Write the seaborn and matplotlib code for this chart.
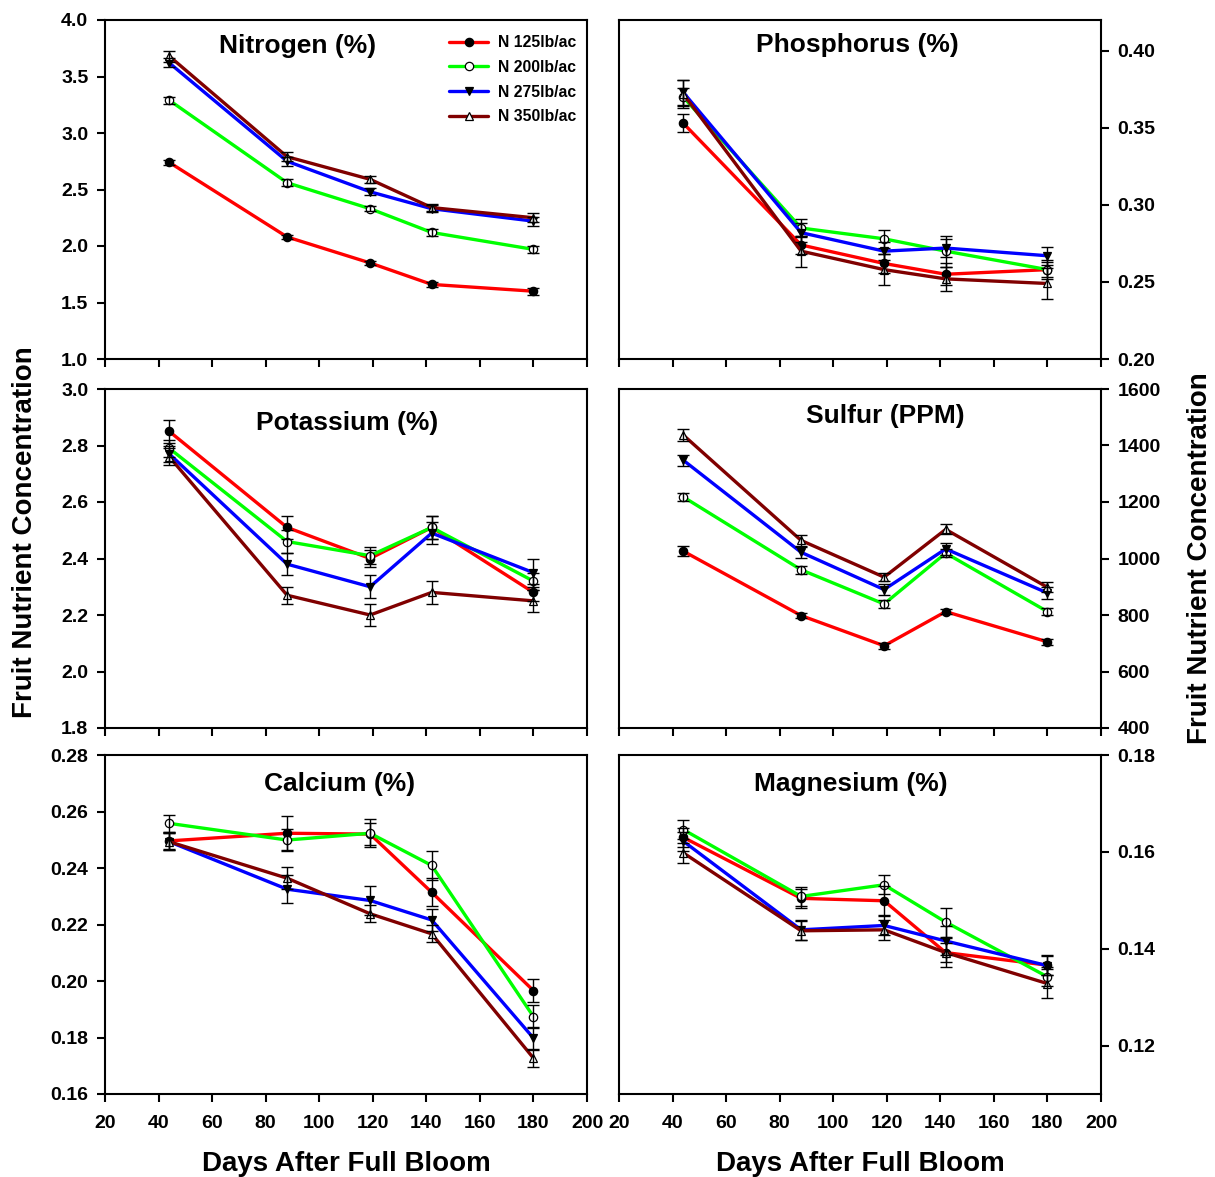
import matplotlib
matplotlib.use("Agg")
import matplotlib.pyplot as plt
from matplotlib.lines import Line2D
from matplotlib.ticker import FormatStrFormatter
import seaborn as sns

# Sampling dates (days after full bloom) and nitrogen rates
days = [44, 88, 119, 142, 180]
rates = ["N 125lb/ac", "N 200lb/ac", "N 275lb/ac", "N 350lb/ac"]

# Mean fruit nutrient concentration, one row per nitrogen rate
nitrogen = [
    [2.74, 2.08, 1.85, 1.66, 1.60],
    [3.29, 2.56, 2.33, 2.12, 1.97],
    [3.62, 2.75, 2.48, 2.33, 2.22],
    [3.68, 2.79, 2.59, 2.34, 2.25],
]
nitrogen_se = [
    [0.02, 0.02, 0.02, 0.02, 0.03],
    [0.03, 0.03, 0.02, 0.03, 0.03],
    [0.04, 0.04, 0.03, 0.03, 0.04],
    [0.05, 0.04, 0.03, 0.03, 0.04],
]

phosphorus = [
    [0.353, 0.274, 0.262, 0.255, 0.258],
    [0.370, 0.285, 0.278, 0.270, 0.258],
    [0.373, 0.282, 0.270, 0.272, 0.267],
    [0.372, 0.270, 0.258, 0.252, 0.249],
]
phosphorus_se = [
    [0.006, 0.006, 0.006, 0.007, 0.005],
    [0.006, 0.006, 0.006, 0.010, 0.006],
    [0.008, 0.006, 0.006, 0.006, 0.006],
    [0.009, 0.010, 0.010, 0.008, 0.010],
]

potassium = [
    [2.85, 2.51, 2.40, 2.51, 2.28],
    [2.79, 2.46, 2.41, 2.51, 2.32],
    [2.77, 2.38, 2.30, 2.49, 2.35],
    [2.76, 2.27, 2.20, 2.28, 2.25],
]
potassium_se = [
    [0.04, 0.04, 0.03, 0.04, 0.03],
    [0.03, 0.04, 0.03, 0.04, 0.03],
    [0.03, 0.04, 0.04, 0.04, 0.05],
    [0.03, 0.03, 0.04, 0.04, 0.04],
]

sulfur = [
    [1026, 798, 691, 812, 705],
    [1218, 960, 839, 1019, 812],
    [1348, 1022, 890, 1034, 878],
    [1437, 1064, 934, 1103, 898],
]
sulfur_se = [
    [18, 10, 10, 10, 10],
    [15, 15, 15, 15, 12],
    [20, 20, 20, 20, 20],
    [20, 18, 15, 18, 18],
]

calcium = [
    [0.2496, 0.2523, 0.2520, 0.2314, 0.1966],
    [0.2558, 0.2499, 0.2523, 0.2409, 0.1874],
    [0.2493, 0.2325, 0.2285, 0.2216, 0.1798],
    [0.2493, 0.2364, 0.2238, 0.2167, 0.1727],
]
calcium_se = [
    [0.003, 0.006, 0.004, 0.005, 0.004],
    [0.003, 0.004, 0.005, 0.005, 0.004],
    [0.003, 0.005, 0.005, 0.004, 0.004],
    [0.003, 0.004, 0.003, 0.003, 0.003],
]

magnesium = [
    [0.1630, 0.1504, 0.1499, 0.1392, 0.1366],
    [0.1646, 0.1508, 0.1532, 0.1455, 0.1342],
    [0.1622, 0.1439, 0.1448, 0.1416, 0.1365],
    [0.1598, 0.1437, 0.1439, 0.1392, 0.1328],
]
magnesium_se = [
    [0.002, 0.002, 0.003, 0.002, 0.002],
    [0.002, 0.002, 0.002, 0.003, 0.002],
    [0.002, 0.002, 0.002, 0.003, 0.002],
    [0.002, 0.002, 0.002, 0.003, 0.003],
]

# Series styling
line_colors = ["#FF0000", "#00FF00", "#0000FF", "#800000"]
marker_shapes = ["o", "o", "v", "^"]
marker_faces = ["black", "white", "black", "white"]

sns.set_style("ticks")
plt.rcParams["font.family"] = ["Liberation Sans", "DejaVu Sans"]
plt.rcParams["font.weight"] = "bold"
plt.rcParams["axes.linewidth"] = 1.5
plt.rcParams["text.color"] = "black"
plt.rcParams["axes.labelcolor"] = "black"
plt.rcParams["xtick.color"] = "black"
plt.rcParams["ytick.color"] = "black"
plt.rcParams["axes.edgecolor"] = "black"

fig = plt.figure(figsize=(12.15, 11.77), dpi=100)

W, H = 1215.0, 1177.0
col_x = [105 / W, 619 / W]
col_w = 482 / W
row_top = [20, 389, 755]
row_bot = [359, 728, 1094]

panels = [
    # (row, col, means, errors, title, title pos, ylim, yticks, tick format)
    (0, 0, nitrogen, nitrogen_se, "Nitrogen (%)", (0.40, 0.922), (1.0, 4.0),
     [1.0, 1.5, 2.0, 2.5, 3.0, 3.5, 4.0], "%.1f"),
    (0, 1, phosphorus, phosphorus_se, "Phosphorus (%)", (0.494, 0.926), (0.20, 0.42),
     [0.20, 0.25, 0.30, 0.35, 0.40], "%.2f"),
    (1, 0, potassium, potassium_se, "Potassium (%)", (0.503, 0.900), (1.8, 3.0),
     [1.8, 2.0, 2.2, 2.4, 2.6, 2.8, 3.0], "%.1f"),
    (1, 1, sulfur, sulfur_se, "Sulfur (PPM)", (0.552, 0.921), (400, 1600),
     [400, 600, 800, 1000, 1200, 1400, 1600], "%d"),
    (2, 0, calcium, calcium_se, "Calcium (%)", (0.487, 0.914), (0.16, 0.28),
     [0.16, 0.18, 0.20, 0.22, 0.24, 0.26, 0.28], "%.2f"),
    (2, 1, magnesium, magnesium_se, "Magnesium (%)", (0.481, 0.914), (0.11, 0.18),
     [0.12, 0.14, 0.16, 0.18], "%.2f"),
]

legend_ax = None
for row, col, means, errs, title, tpos, ylim, yticks, fmt in panels:
    y0 = 1 - row_bot[row] / H
    h = (row_bot[row] - row_top[row]) / H
    ax = fig.add_axes([col_x[col], y0, col_w, h])

    for i in range(len(rates)):
        sns.lineplot(x=days, y=means[i], ax=ax, color=line_colors[i],
                     linewidth=2.4, marker=marker_shapes[i], markersize=6,
                     markerfacecolor=marker_faces[i], markeredgecolor="black",
                     markeredgewidth=0.9, legend=False, errorbar=None,
                     label=rates[i], zorder=2 + 0.1 * i)
        ax.errorbar(days, means[i], yerr=errs[i], fmt="none", ecolor="black",
                    elinewidth=1.0, capsize=4, capthick=1.0, zorder=3)

    ax.set_xlim(20, 200)
    ax.set_xticks(range(20, 201, 20))
    ax.set_ylim(*ylim)
    ax.set_yticks(yticks)
    ax.yaxis.set_major_formatter(FormatStrFormatter(fmt))
    ax.set_ylabel("")
    ax.tick_params(axis="both", direction="out", length=6, width=1.5,
                   labelsize=14, pad=6, colors="black")
    ax.tick_params(axis="x", pad=9)
    for sp in ax.spines.values():
        sp.set_visible(True)
        sp.set_color("black")
        sp.set_linewidth(1.5)

    if col == 1:
        ax.yaxis.tick_right()
    if row < 2:
        ax.tick_params(axis="x", labelbottom=False)
        ax.set_xlabel("")
    else:
        ax.set_xlabel("Days After Full Bloom", fontsize=20, fontweight="bold",
                      labelpad=14, color="black")

    ax.text(tpos[0], tpos[1], title, transform=ax.transAxes, ha="center",
            va="center", fontsize=19, fontweight="bold", color="black")

    if row == 0 and col == 0:
        legend_ax = ax

handles = [
    Line2D([], [], color=line_colors[i], linewidth=2.4, marker=marker_shapes[i],
           markersize=6, markerfacecolor=marker_faces[i],
           markeredgecolor="black", markeredgewidth=0.9)
    for i in range(len(rates))
]
legend_ax.legend(handles, rates, loc="upper left", bbox_to_anchor=(0.714, 0.955),
                 frameon=False, borderpad=0, borderaxespad=0, handlelength=2.5,
                 handletextpad=0.6, labelspacing=0.62, numpoints=1,
                 prop={"weight": "bold", "size": 11.3})

fig.text(0.0206, 0.548, "Fruit Nutrient Concentration", rotation=90,
         ha="center", va="center", fontsize=20, fontweight="bold", color="black")
fig.text(0.988, 0.526, "Fruit Nutrient Concentration", rotation=90,
         ha="center", va="center", fontsize=20, fontweight="bold", color="black")

fig.savefig("out.png", dpi=100, facecolor="white")
